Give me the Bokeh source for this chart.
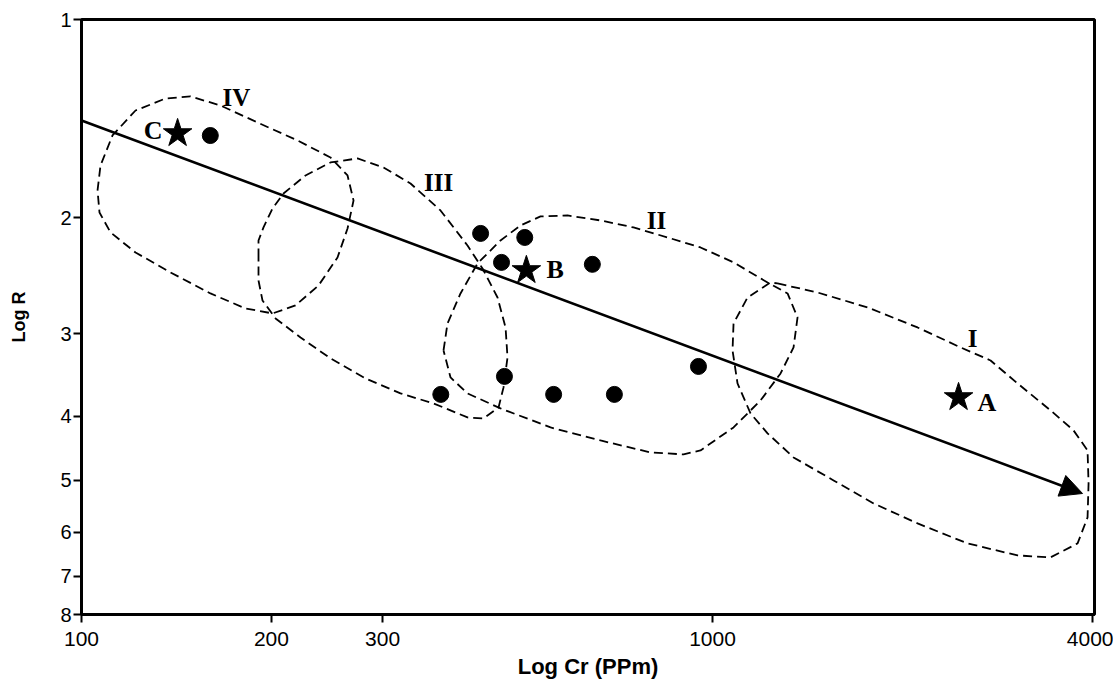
import numpy as np
from bokeh.plotting import figure
from bokeh.models import Range1d, FixedTicker, PrintfTickFormatter, Arrow, NormalHead
from bokeh.core.properties import value
from bokeh.embed import file_html
from bokeh.resources import INLINE

# ---- data (Cr in ppm, R) ----
circle_cr = [160, 429, 504, 463, 645, 950, 468, 371, 560, 699]
circle_r = [1.500, 2.112, 2.142, 2.337, 2.353, 3.362, 3.481, 3.707, 3.707, 3.707]

star_names = ["A", "B", "C"]
star_cr = [2454, 507, 142]
star_r = [3.746, 2.403, 1.489]

group_names = ["I", "II", "III", "IV"]
group_label_cr = [2582, 815, 368, 176]
group_label_r = [3.049, 2.018, 1.767, 1.313]

arrow_cr = [100, 3858]
arrow_r = [1.423, 5.241]

x_ticks = [100, 200, 300, 1000, 4000]
y_ticks = [1, 2, 3, 4, 5, 6, 7, 8]

# field outlines, given as log10(Cr) and log10(R)
iv_log_cr = [2.0254, 2.0301, 2.0491, 2.0856, 2.1331, 2.1727, 2.2203, 2.2789, 2.3423, 2.3946,
             2.4216, 2.4311, 2.4216, 2.4057, 2.3756, 2.3391, 2.3027, 2.2599, 2.2044, 2.1410,
             2.0856, 2.0460, 2.0285]
iv_log_r = [0.2595, 0.2216, 0.1760, 0.1381, 0.1199, 0.1168, 0.1305, 0.1563, 0.1836, 0.2094,
            0.2367, 0.2747, 0.3172, 0.3612, 0.4037, 0.4340, 0.4461, 0.4386, 0.4158, 0.3839,
            0.3536, 0.3232, 0.2929]

iii_log_cr = [2.2805, 2.2805, 2.2884, 2.3027, 2.3201, 2.3550, 2.3946, 2.4374, 2.4786, 2.5214,
              2.5689, 2.6117, 2.6355, 2.6593, 2.6720, 2.6751, 2.6688, 2.6609, 2.6371, 2.6117,
              2.5578, 2.5055, 2.4501, 2.3946, 2.3471, 2.3075, 2.2868, 2.2805]
iii_log_r = [0.3612, 0.3354, 0.3156, 0.2868, 0.2640, 0.2367, 0.2170, 0.2109, 0.2246, 0.2489,
             0.2898, 0.3430, 0.3779, 0.4219, 0.4674, 0.5129, 0.5584, 0.5888, 0.6055, 0.6040,
             0.5827, 0.5675, 0.5448, 0.5144, 0.4826, 0.4537, 0.4264, 0.3961]

ii_log_cr = [2.5737, 2.5800, 2.6006, 2.6276, 2.6640, 2.6957, 2.7274, 2.7702, 2.8225, 2.8748,
             2.9287, 2.9810, 3.0333, 3.0872, 3.1189, 3.1347, 3.1284, 3.1078, 3.0761, 3.0333,
             2.9810, 2.9541, 2.9018, 2.8225, 2.7433, 2.6640, 2.6117, 2.5848]
ii_log_r = [0.5023, 0.4613, 0.4158, 0.3703, 0.3354, 0.3126, 0.2989, 0.2974, 0.3050, 0.3156,
            0.3308, 0.3460, 0.3687, 0.3991, 0.4158, 0.4522, 0.4977, 0.5372, 0.5782, 0.6191,
            0.6540, 0.6601, 0.6571, 0.6389, 0.6191, 0.5903, 0.5675, 0.5433]

i_log_cr = [3.1030, 3.1664, 3.2457, 3.3249, 3.3930, 3.4406, 3.4834, 3.5357, 3.5721, 3.5943,
            3.5959, 3.5943, 3.5785, 3.5357, 3.4834, 3.4041, 3.3249, 3.2552, 3.1918, 3.1284,
            3.0872, 3.0602, 3.0396, 3.0317, 3.0333, 3.0555, 3.0919]
i_log_r = [0.4006, 0.4143, 0.4370, 0.4674, 0.4977, 0.5175, 0.5524, 0.5933, 0.6237, 0.6540,
           0.7041, 0.7557, 0.7952, 0.8164, 0.8134, 0.7952, 0.7648, 0.7345, 0.6996, 0.6647,
           0.6282, 0.5979, 0.5524, 0.5023, 0.4613, 0.4219, 0.3991]

# ---- figure ----
p = figure(width=1113, height=681, x_axis_type="log", y_axis_type="log",
           x_range=Range1d(100, 4030), y_range=Range1d(8, 1),
           output_backend="svg", toolbar_location=None,
           min_border_left=81, min_border_top=19, min_border_right=19, min_border_bottom=67,
           background_fill_color="white", border_fill_color="white")

p.xgrid.visible = False
p.ygrid.visible = False
p.outline_line_color = "black"
p.outline_line_width = 3

p.xaxis.ticker = FixedTicker(ticks=x_ticks)
p.yaxis.ticker = FixedTicker(ticks=y_ticks)
p.xaxis.formatter = PrintfTickFormatter(format="%d")
p.yaxis.formatter = PrintfTickFormatter(format="%d")

for ax in (p.xaxis, p.yaxis):
    ax.axis_line_width = 3
    ax.axis_line_color = "black"
    ax.major_tick_line_width = 2
    ax.major_tick_line_color = "black"
    ax.major_tick_in = 0
    ax.major_tick_out = 8
    ax.minor_tick_line_color = None
    ax.major_label_text_color = "black"
    ax.major_label_text_font = "Liberation Sans"
    ax.axis_label_text_font = "Liberation Sans"
    ax.axis_label_text_font_style = "bold"
    ax.axis_label_text_color = "black"

p.xaxis.axis_label = "Log Cr (PPm)"
p.xaxis.major_label_text_font_size = "21px"
p.xaxis.major_label_standoff = 9
p.xaxis.axis_label_text_font_size = "22px"
p.xaxis.axis_label_standoff = 5

p.yaxis.axis_label = "Log R"
p.yaxis.major_label_text_font_size = "20px"
p.yaxis.major_label_standoff = 2
p.yaxis.axis_label_text_font_size = "18px"
p.yaxis.axis_label_standoff = 28

# field outlines (dashed, closed)
for lcr, lr in ((iv_log_cr, iv_log_r), (iii_log_cr, iii_log_r),
                (ii_log_cr, ii_log_r), (i_log_cr, i_log_r)):
    cr = 10 ** np.array(lcr + lcr[:1])
    r = 10 ** np.array(lr + lr[:1])
    p.line(cr, r, line_color="black", line_width=1.8, line_dash="9 5")

# trend arrow
p.add_layout(Arrow(end=NormalHead(size=22, fill_color="black", line_color="black", line_width=1),
                   x_start=arrow_cr[0], y_start=arrow_r[0],
                   x_end=arrow_cr[1], y_end=arrow_r[1],
                   line_color="black", line_width=2.6))

# samples
p.scatter(circle_cr, circle_r, marker="circle", size=16, color="black")
p.scatter(star_cr, star_r, marker="star", size=30, color="black")

serif = value("Liberation Serif")
# star labels
p.text(x=[star_cr[0]], y=[star_r[0]], text=[star_names[0]], text_font=serif,
       text_font_style="bold", text_font_size="26px", text_align="left",
       text_baseline="middle", x_offset=19, y_offset=5, text_color="black")
p.text(x=[star_cr[1]], y=[star_r[1]], text=[star_names[1]], text_font=serif,
       text_font_style="bold", text_font_size="26px", text_align="left",
       text_baseline="middle", x_offset=20, y_offset=-1, text_color="black")
p.text(x=[star_cr[2]], y=[star_r[2]], text=[star_names[2]], text_font=serif,
       text_font_style="bold", text_font_size="26px", text_align="right",
       text_baseline="middle", x_offset=-15, y_offset=-3, text_color="black")

# field labels
p.text(x=group_label_cr, y=group_label_r, text=group_names, text_font=serif,
       text_font_style="bold", text_font_size="25px", text_align="center",
       text_baseline="middle", text_color="black")

open("out.html", "w").write(file_html(p, INLINE))
